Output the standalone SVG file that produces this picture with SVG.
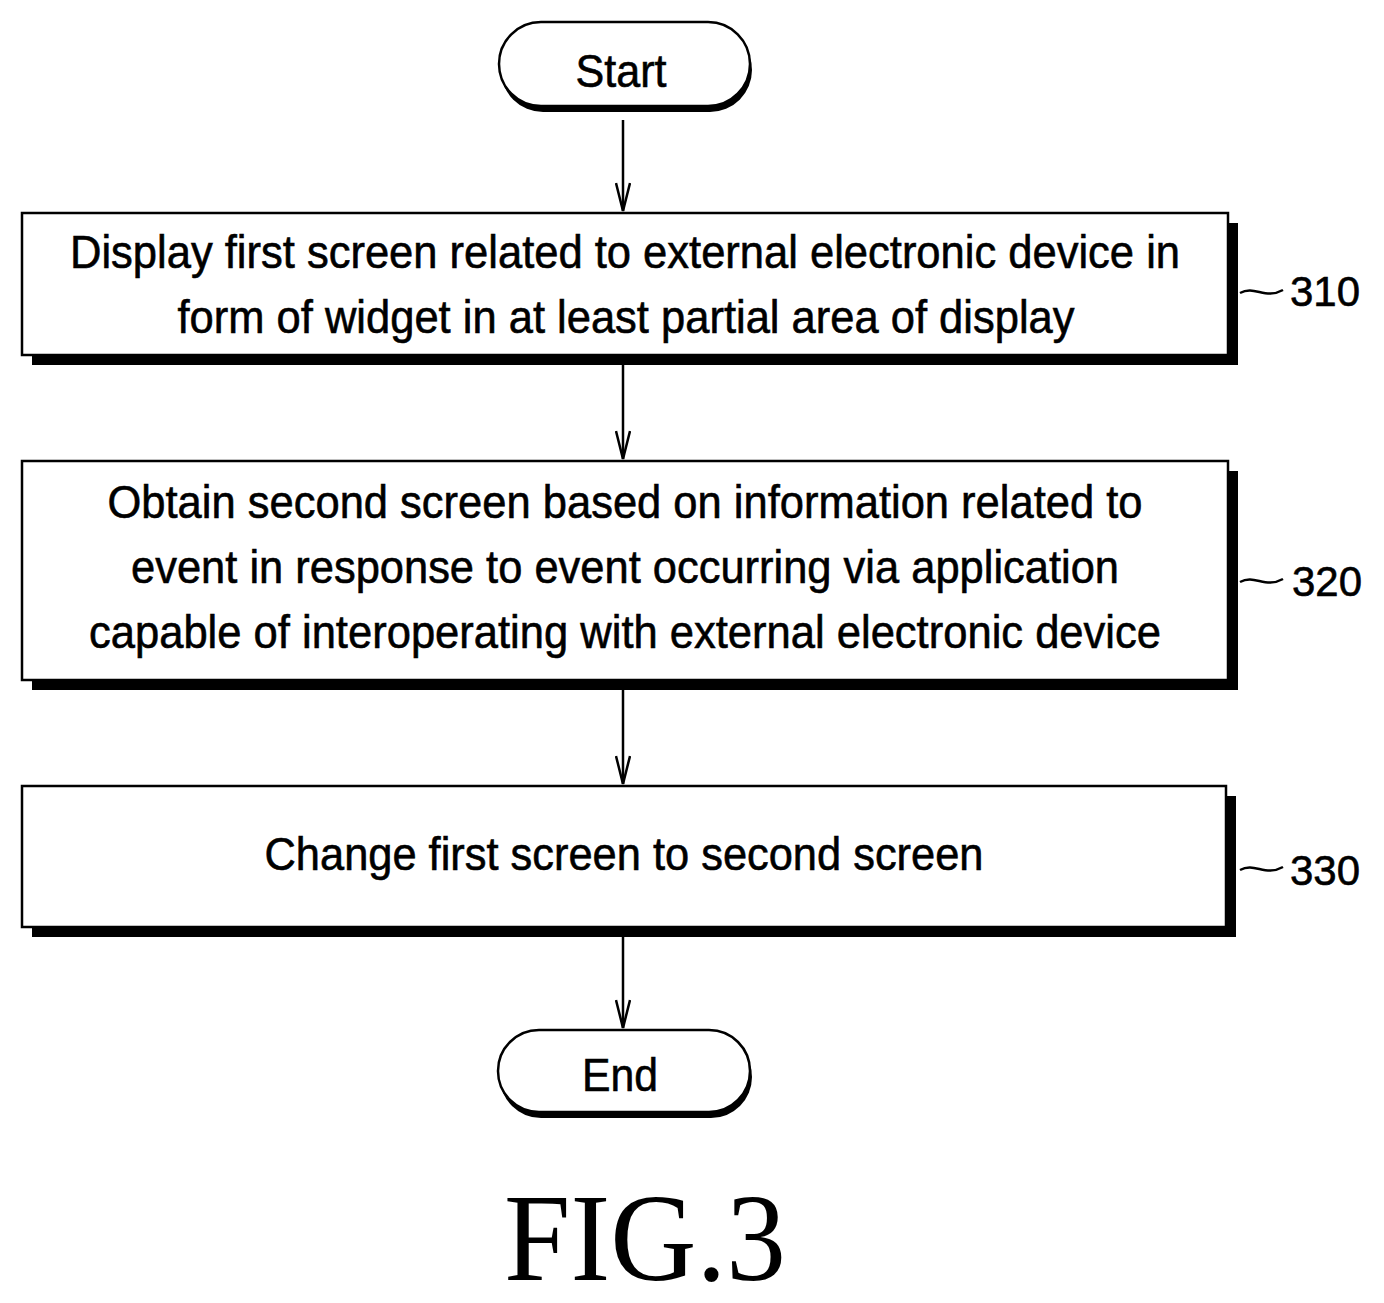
<svg xmlns="http://www.w3.org/2000/svg" width="1384" height="1303" viewBox="0 0 1384 1303">
<style>
.b{fill:#fff;stroke:#000;stroke-width:2.5}
.s{fill:#000}
.t{font-family:"Liberation Sans",Arial,sans-serif;font-size:46px;fill:#000;text-anchor:middle;stroke:#000;stroke-width:0.6}
.n{font-family:"Liberation Sans",Arial,sans-serif;font-size:42px;fill:#000;stroke:#000;stroke-width:0.6}
.c{stroke:#000;stroke-width:2.5;fill:none}
</style>
<defs><marker id="a" markerWidth="16" markerHeight="30" refX="8" refY="29" orient="0" markerUnits="userSpaceOnUse"><path d="M1,1 L8,29 L15,1" fill="none" stroke="#000" stroke-width="2.5"/></marker></defs>
<rect width="1384" height="1303" fill="#fff"/>
<g id="start"><rect x="501" y="28" width="251" height="84" rx="42" class="s"/><rect x="499" y="22" width="251" height="84" rx="42" class="b"/><text x="621" y="87" class="t" textLength="91" lengthAdjust="spacingAndGlyphs">Start</text></g>
<g id="n310"><rect x="32" y="223" width="1206" height="142" class="s"/><rect x="22" y="213" width="1206" height="142" class="b"/>
<text x="625" y="268" class="t" textLength="1110" lengthAdjust="spacingAndGlyphs">Display first screen related to external electronic device in</text>
<text x="626" y="333" class="t" textLength="897" lengthAdjust="spacingAndGlyphs">form of widget in at least partial area of display</text></g>
<g id="n320"><rect x="32" y="471" width="1206" height="219" class="s"/><rect x="22" y="461" width="1206" height="219" class="b"/>
<text x="625" y="518" class="t" textLength="1035" lengthAdjust="spacingAndGlyphs">Obtain second screen based on information related to</text>
<text x="625" y="583" class="t" textLength="988" lengthAdjust="spacingAndGlyphs">event in response to event occurring via application</text>
<text x="625" y="648" class="t" textLength="1072" lengthAdjust="spacingAndGlyphs">capable of interoperating with external electronic device</text></g>
<g id="n330"><rect x="32" y="796" width="1204" height="141" class="s"/><rect x="22" y="786" width="1204" height="141" class="b"/>
<text x="624" y="870" class="t" textLength="719" lengthAdjust="spacingAndGlyphs">Change first screen to second screen</text></g>
<g id="end"><rect x="500" y="1036" width="252" height="82" rx="41" class="s"/><rect x="498" y="1030" width="252" height="82" rx="41" class="b"/><text x="620" y="1091" class="t" textLength="76" lengthAdjust="spacingAndGlyphs">End</text></g>
<g id="connectors">
<line x1="623" y1="120" x2="623" y2="211" class="c" marker-end="url(#a)"/>
<line x1="623" y1="365" x2="623" y2="459" class="c" marker-end="url(#a)"/>
<line x1="623" y1="690" x2="623" y2="784" class="c" marker-end="url(#a)"/>
<line x1="623" y1="937" x2="623" y2="1028" class="c" marker-end="url(#a)"/>
<path d="M1240,293 C1255,285 1265,300 1283,290" class="c" stroke-width="2"/>
<path d="M1240,582 C1255,574 1265,589 1283,579" class="c" stroke-width="2"/>
<path d="M1240,870 C1255,862 1265,877 1283,867" class="c" stroke-width="2"/>
</g>
<g id="labels">
<text x="1290" y="306" class="n" textLength="70" lengthAdjust="spacingAndGlyphs">310</text>
<text x="1292" y="596" class="n" textLength="70" lengthAdjust="spacingAndGlyphs">320</text>
<text x="1290" y="885" class="n" textLength="70" lengthAdjust="spacingAndGlyphs">330</text>
<text x="645" y="1280" font-family="Liberation Serif,serif" font-size="124" text-anchor="middle" textLength="282" lengthAdjust="spacingAndGlyphs">FIG.3</text>
</g>
</svg>
